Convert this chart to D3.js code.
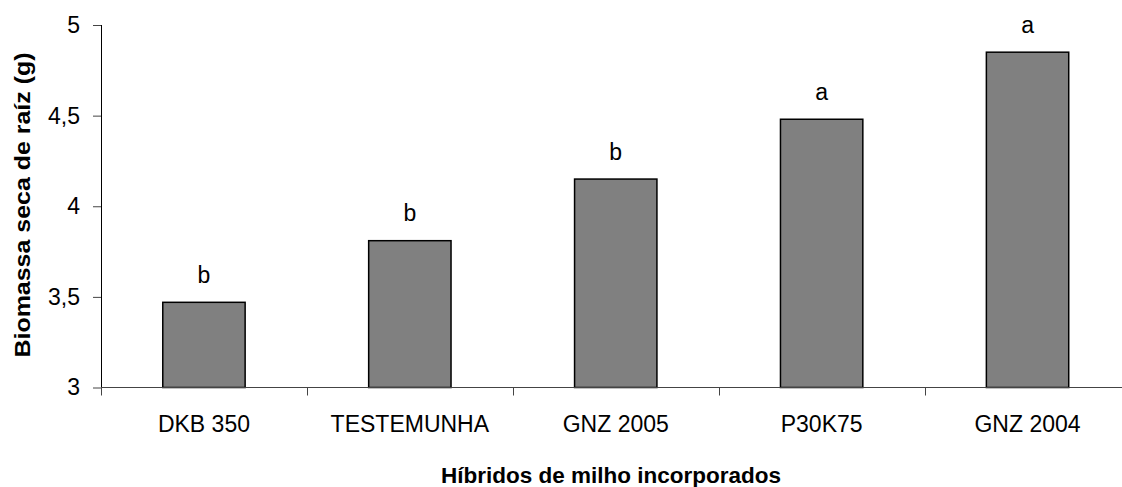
<!DOCTYPE html>
<html>
<head>
<meta charset="utf-8">
<script src="https://cdn.jsdelivr.net/npm/d3@7"></script>
<style>
  html, body { margin: 0; padding: 0; background: #fff; }
  svg { display: block; font-family: Arial, "Liberation Sans", sans-serif; }
</style>
</head>
<body>
<svg id="chart" width="1122" height="487"></svg>
<script>
const categories = ["DKB 350", "TESTEMUNHA", "GNZ 2005", "P30K75", "GNZ 2004"];
const values = [3.47, 3.81, 4.15, 4.48, 4.85];
const letters = ["b", "b", "b", "a", "a"];
const yTicks = [3, 3.5, 4, 4.5, 5];
const yTickLabels = ["3", "3,5", "4", "4,5", "5"];
const yTitle = "Biomassa seca de raíz (g)";
const xTitle = "Híbridos de milho incorporados";

const svg = d3.select("#chart");
const mLeft = 101, mRight = 1130.5, mTop = 25, mBottom = 387.5;

const x = d3.scaleBand().domain(categories).range([mLeft, mRight]).padding(0);
const y = d3.scaleLinear().domain([3, 5]).range([mBottom, mTop]);
const bw = x.bandwidth();

// bars
svg.append("g").selectAll("rect").data(categories).join("rect")
  .attr("x", (d) => x(d) + bw * 0.3)
  .attr("width", bw * 0.4)
  .attr("y", (d, i) => y(values[i]))
  .attr("height", (d, i) => y(3) - y(values[i]))
  .attr("fill", "#808080")
  .attr("stroke", "#000")
  .attr("stroke-width", 1.5);

// letters
svg.append("g").selectAll("text").data(categories).join("text")
  .attr("x", (d) => x(d) + bw / 2)
  .attr("y", (d, i) => y(values[i]) - 19.5)
  .attr("text-anchor", "middle")
  .attr("font-size", 23)
  .attr("fill", "#000")
  .text((d, i) => letters[i]);

// y axis
const yAxis = d3.axisLeft(y).tickValues(yTicks).tickSize(8).tickPadding(13)
  .tickFormat((d, i) => yTickLabels[i]);
const gy = svg.append("g").attr("transform", `translate(${mLeft},0)`).call(yAxis);
gy.select(".domain").attr("stroke", "#000").attr("d", `M0.5,${mTop}V${mBottom}`);
gy.selectAll(".tick line").attr("stroke", "#444");
gy.selectAll(".tick text").attr("font-size", 23).attr("fill", "#000")
  .attr("font-family", "Arial, 'Liberation Sans', sans-serif");

// x axis
const gx = svg.append("g").attr("transform", `translate(0,${mBottom})`);
gx.append("line").attr("x1", mLeft).attr("x2", 1122).attr("y1", 0).attr("y2", 0)
  .attr("stroke", "#444").attr("stroke-width", 1);
const sepX = categories.map((d) => x(d)).concat([x(categories[categories.length - 1]) + bw]);
gx.selectAll("line.sep").data(sepX).join("line").attr("class", "sep")
  .attr("x1", (d) => Math.round(d) + 0.5).attr("x2", (d) => Math.round(d) + 0.5)
  .attr("y1", 0).attr("y2", 8).attr("stroke", "#444");
gx.selectAll("text.cat").data(categories).join("text").attr("class", "cat")
  .attr("x", (d) => x(d) + bw / 2)
  .attr("y", 44)
  .attr("text-anchor", "middle")
  .attr("font-size", 23)
  .attr("fill", "#000")
  .text((d) => d);

// titles
svg.append("text")
  .attr("x", 611).attr("y", 483)
  .attr("text-anchor", "middle")
  .attr("font-size", 22.5).attr("font-weight", "bold").attr("fill", "#000")
  .text(xTitle);

svg.append("text")
  .attr("transform", "translate(30,205) rotate(-90)")
  .attr("text-anchor", "middle")
  .attr("font-size", 22.5).attr("font-weight", "bold").attr("fill", "#000")
  .attr("textLength", 305).attr("lengthAdjust", "spacingAndGlyphs")
  .text(yTitle);
</script>
</body>
</html>
